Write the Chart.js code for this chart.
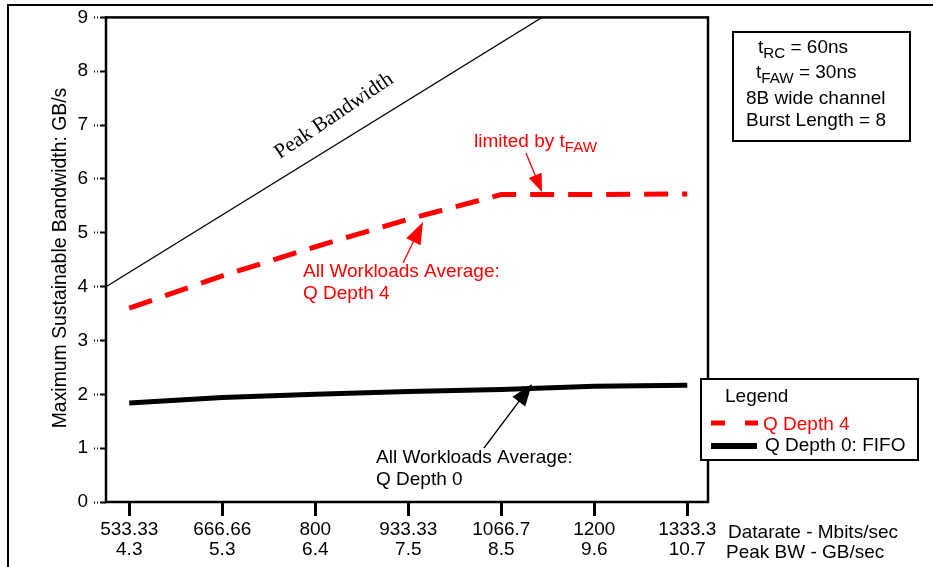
<!DOCTYPE html>
<html>
<head>
<meta charset="utf-8">
<script src="https://cdn.jsdelivr.net/npm/chart.js@4"></script>
<style>
  html, body { margin: 0; padding: 0; background: #fff; }
  #wrap { width: 933px; height: 567px; position: relative; }
</style>
</head>
<body>
<div id="wrap"><canvas id="chart" width="933" height="567"></canvas></div>
<script>
const datarate = [533.33, 666.66, 800, 933.33, 1066.7, 1200, 1333.3];
const datarateLabels = ["533.33", "666.66", "800", "933.33", "1066.7", "1200", "1333.3"];
const peakBWLabels = ["4.3", "5.3", "6.4", "7.5", "8.5", "9.6", "10.7"];
const qDepth4 = [3.6, 4.2, 4.74, 5.25, 5.71, 5.71, 5.72];
const qDepth0 = [1.84, 1.94, 2.0, 2.05, 2.09, 2.15, 2.17];
// peak bandwidth diagonal: from the left edge of the plot up to the 9 GB/s top
const peakLineX = [500, 1125];
const peakLineY = [4.0, 9.0];

const SANS = "'Liberation Sans', Arial, sans-serif";
const SERIF = "'Liberation Serif', 'Times New Roman', serif";
const RED = "#ff0000";

const toXY = (xs, ys) => xs.map((x, i) => ({ x: x, y: ys[i] }));

// text with subscript pieces: [["t"], ["RC", true], [" = 60ns"]]
function drawSub(ctx, x, y, parts, size) {
  let cx = x;
  parts.forEach(([txt, sub]) => {
    ctx.font = (sub ? size * 0.8 : size) + "px " + SANS;
    ctx.fillText(txt, cx, sub ? y + 5 : y);
    cx += ctx.measureText(txt).width;
  });
}

function arrow(ctx, x1, y1, x2, y2, color, headLen, headW) {
  const a = Math.atan2(y2 - y1, x2 - x1);
  ctx.save();
  ctx.strokeStyle = color;
  ctx.fillStyle = color;
  ctx.lineWidth = 1.3;
  ctx.beginPath();
  ctx.moveTo(x1, y1);
  ctx.lineTo(x2 - Math.cos(a) * headLen * 0.8, y2 - Math.sin(a) * headLen * 0.8);
  ctx.stroke();
  ctx.translate(x2, y2);
  ctx.rotate(a);
  ctx.beginPath();
  ctx.moveTo(0, 0);
  ctx.lineTo(-headLen, -headW / 2);
  ctx.lineTo(-headLen, headW / 2);
  ctx.closePath();
  ctx.fill();
  ctx.restore();
}

const decorations = {
  id: "decorations",
  beforeDraw(chart) {
    const ctx = chart.ctx;
    ctx.save();
    // outer figure frame
    ctx.strokeStyle = "#000";
    ctx.lineWidth = 2;
    ctx.beginPath();
    ctx.moveTo(8, 567);
    ctx.lineTo(8, 5);
    ctx.lineTo(933, 5);
    ctx.stroke();

    // y axis title
    ctx.translate(61, 258);
    ctx.rotate(-Math.PI / 2);
    ctx.fillStyle = "#000";
    ctx.font = "19.4px " + SANS;
    ctx.textAlign = "center";
    ctx.textBaseline = "middle";
    ctx.fillText("Maximum Sustainable Bandwidth: GB/s", 0, 0);
    ctx.restore();
  },
  afterDraw(chart) {
    const ctx = chart.ctx;
    const a = chart.chartArea;
    ctx.save();

    // plot frame
    ctx.strokeStyle = "#000";
    ctx.lineWidth = 2.5;
    ctx.strokeRect(a.left, a.top, a.right - a.left, a.bottom - a.top);

    // axis captions to the right of the tick labels
    ctx.fillStyle = "#000";
    ctx.font = "19px " + SANS;
    ctx.textBaseline = "middle";
    ctx.fillText("Datarate - Mbits/sec", 728, 533);
    ctx.fillText("Peak BW - GB/sec", 726, 553);

    // peak bandwidth label along the diagonal
    ctx.save();
    ctx.translate(334, 116);
    ctx.rotate(-34 * Math.PI / 180);
    ctx.font = "21px " + SERIF;
    ctx.textAlign = "center";
    ctx.fillText("Peak Bandwidth", 0, 0);
    ctx.restore();

    // parameter box
    ctx.lineWidth = 2;
    ctx.strokeRect(733, 32, 177, 109);
    ctx.textBaseline = "alphabetic";
    ctx.fillStyle = "#000";
    drawSub(ctx, 758, 53, [["t"], ["RC", true], [" = 60ns"]], 19);
    drawSub(ctx, 756, 78, [["t"], ["FAW", true], [" = 30ns"]], 19);
    ctx.font = "19px " + SANS;
    ctx.fillText("8B wide channel", 746, 104);
    ctx.fillText("Burst Length = 8", 746, 126);

    // annotations
    ctx.fillStyle = RED;
    drawSub(ctx, 474, 147, [["limited by t"], ["FAW", true]], 19);
    arrow(ctx, 526, 153, 542, 192, RED, 18, 14);
    ctx.fillStyle = RED;
    ctx.font = "19px " + SANS;
    ctx.fillText("All Workloads Average:", 303, 277);
    ctx.fillText("Q Depth 4", 303, 299);
    arrow(ctx, 403, 263, 423, 222, RED, 22, 16);

    ctx.fillStyle = "#000";
    ctx.fillText("All Workloads Average:", 376, 463);
    ctx.fillText("Q Depth 0", 376, 485);
    arrow(ctx, 484, 448, 532, 384, "#000", 22, 16);

    // legend box
    const ds = chart.data.datasets;
    ctx.fillStyle = "#fff";
    ctx.fillRect(701, 379, 217, 81);
    ctx.strokeStyle = "#000";
    ctx.lineWidth = 2;
    ctx.strokeRect(701, 379, 217, 81);
    ctx.fillStyle = "#000";
    ctx.font = "19px " + SANS;
    ctx.fillText("Legend", 725, 402);

    ctx.lineWidth = 5;
    ctx.strokeStyle = ds[1].borderColor;
    ctx.setLineDash([14, 20]);
    ctx.beginPath();
    ctx.moveTo(711, 423);
    ctx.lineTo(758, 423);
    ctx.stroke();
    ctx.setLineDash([]);
    ctx.fillStyle = ds[1].borderColor;
    ctx.fillText(ds[1].label, 763, 430);

    ctx.lineWidth = 6;
    ctx.strokeStyle = ds[2].borderColor;
    ctx.beginPath();
    ctx.moveTo(711, 446);
    ctx.lineTo(757, 446);
    ctx.stroke();
    ctx.fillStyle = ds[2].borderColor;
    ctx.fillText(ds[2].label, 765, 451);

    ctx.restore();
  }
};

new Chart(document.getElementById("chart"), {
  type: "line",
  data: {
    datasets: [
      {
        label: "Peak Bandwidth",
        data: toXY(peakLineX, peakLineY),
        borderColor: "#000",
        borderWidth: 1.2,
        pointRadius: 0,
      },
      {
        label: "Q Depth 4",
        data: toXY(datarate, qDepth4),
        borderColor: RED,
        borderWidth: 5,
        borderDash: [24, 14],
        pointRadius: 0,
      },
      {
        label: "Q Depth 0: FIFO",
        data: toXY(datarate, qDepth0),
        borderColor: "#000",
        borderWidth: 5,
        pointRadius: 0,
      },
    ],
  },
  options: {
    responsive: false,
    animation: false,
    layout: { padding: { left: 0, top: 17, right: 225, bottom: 0 } },
    plugins: {
      legend: { display: false },
      tooltip: { enabled: false },
    },
    scales: {
      x: {
        type: "linear",
        min: 500,
        max: 1363,
        afterBuildTicks: (scale) => {
          scale.ticks = datarate.map((v) => ({ value: v }));
        },
        afterFit: (scale) => {
          scale.height = 65;
        },
        ticks: {
          autoSkip: false,
          maxRotation: 0,
          padding: 4,
          color: "#000",
          font: { family: SANS, size: 19, lineHeight: 1.05 },
          callback: (value, index) => [datarateLabels[index], peakBWLabels[index]],
        },
        grid: {
          drawOnChartArea: false,
          tickLength: 14,
          tickWidth: 3,
          tickColor: "#000",
        },
        border: { display: false },
      },
      y: {
        min: 0,
        max: 9,
        afterFit: (scale) => {
          scale.width = 106;
        },
        ticks: {
          stepSize: 1,
          padding: 6,
          color: "#000",
          font: { family: SANS, size: 19 },
        },
        grid: {
          drawOnChartArea: false,
          tickLength: 12,
          tickWidth: 2,
          tickColor: "#000",
          tickBorderDash: [1, 2, 1, 2, 6],
        },
        border: { display: false },
      },
    },
  },
  plugins: [decorations],
});
</script>
</body>
</html>
